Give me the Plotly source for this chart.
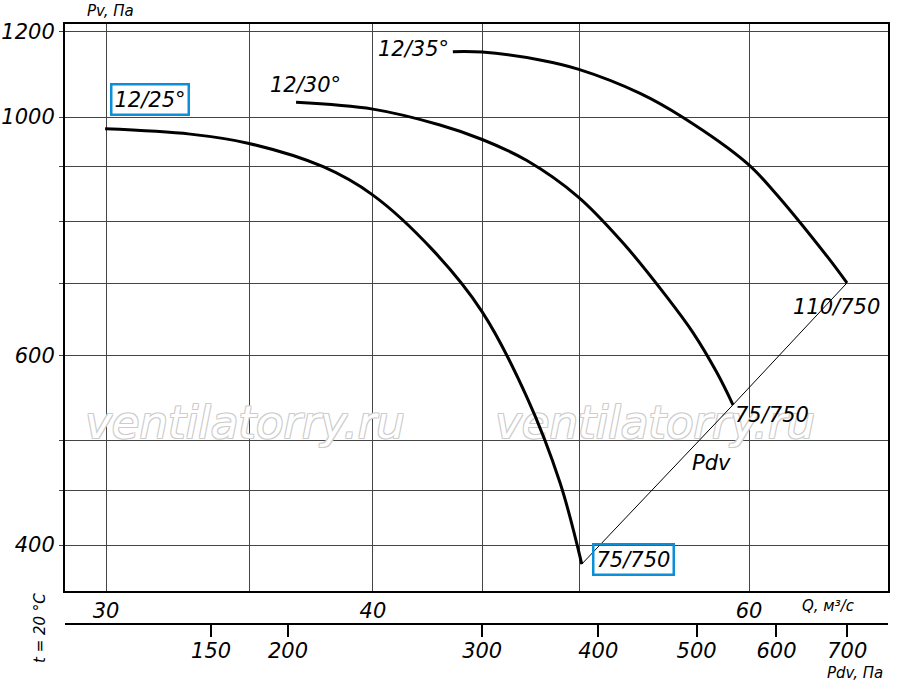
import math
import plotly.graph_objects as go

# fan curves: Q (m3/s) and Pv (Pa)
q_25 = [29.97, 32.85, 35.0, 37.91, 40.0, 42.67, 45.0, 47.22, 48.94, 50.1]
pv_25 = [975, 964, 945, 899, 846, 752, 659, 549, 457, 384]

q_30 = [36.82, 40.0, 43.0, 45.0, 47.22, 49.9, 52.37, 54.92, 56.49, 57.97, 58.97]
pv_30 = [1032, 1017, 983, 953, 911, 843, 764, 680, 630, 578, 540]

q_35 = [43.6, 45.0, 47.89, 49.9, 53.35, 55.88, 59.86, 61.56, 65.27, 66.68]
pv_35 = [1150, 1149, 1130, 1108, 1052, 999, 906, 855, 742, 701]

# axis ticks
q_grid = [30, 35, 40, 45, 50, 60]
q_text = ["30", "", "40", "", "", "60"]
pv_grid = [400, 450, 500, 600, 700, 800, 900, 1000, 1200]
pv_text = ["400", "", "", "600", "", "", "", "1000", "1200"]
pdv_labels = ["150", "200", "300", "400", "500", "600", "700"]
pdv_at_q = [33.6, 36.5, 45.0, 51.0, 56.7, 61.8, 66.7]

# watermark spots
wm_q = [34.85, 54.22]
wm_pv = [515, 515]

FONT = "DejaVu Sans"
BLUE = "#0a8fd8"

fig = go.Figure()

# watermark first so curves and labels sit on top of it
fig.add_trace(go.Scatter(
    x=wm_q, y=wm_pv, mode="text", text=["ventilatorry.ru"] * 2, showlegend=False, hoverinfo="skip",
    textfont=dict(family=FONT, size=45, color="white", style="italic",
                  shadow="1px 1px 0 #cccccc, -1px -1px 0 #cccccc, 1px -1px 0 #cccccc, -1px 1px 0 #cccccc")))

curve = dict(color="black", width=3, shape="spline", smoothing=1.0)
fig.add_trace(go.Scatter(x=q_25, y=pv_25, mode="lines", line=curve, showlegend=False))
fig.add_trace(go.Scatter(x=q_30, y=pv_30, mode="lines", line=curve, showlegend=False))
fig.add_trace(go.Scatter(x=q_35, y=pv_35, mode="lines", line=curve, showlegend=False))

# Pdv line through the curve ends
fig.add_trace(go.Scatter(x=[q_25[-1], q_30[-1], q_35[-1]], y=[pv_25[-1], pv_30[-1], pv_35[-1]],
                         mode="lines", line=dict(color="black", width=1), showlegend=False))
# dummy trace so the Pdv axis is drawn
fig.add_trace(go.Scatter(x=[q_25[0]], y=[pv_25[0]], xaxis="x2", mode="markers",
                         marker=dict(opacity=0), showlegend=False, hoverinfo="skip"))

lab = dict(family=FONT, size=21, color="black", style="italic")
notes = [
    ("12/25°", 31.46, 1038, True),
    ("12/30°", 37.19, 1071, False),
    ("12/35°", 41.81, 1157, False),
    ("110/750", 65.96, 666, False),
    ("75/750", 61.5, 528, False),
    ("Pdv", 57.65, 477, False),
    ("75/750", 52.95, 388, True),
]
for txt, qx, py, boxed in notes:
    # log axes take annotation positions in log10 units
    fig.add_annotation(x=math.log10(qx), y=math.log10(py), xref="x", yref="y", text=txt,
                       showarrow=False, font=lab, xanchor="center", yanchor="middle",
                       bordercolor=BLUE if boxed else "rgba(0,0,0,0)",
                       borderwidth=2.5 if boxed else 0, borderpad=2)

small = dict(family=FONT, size=15, color="black", style="italic")
fig.add_annotation(x=20 / 823, y=1, xref="paper", yref="paper", text="Pv, Па", showarrow=False,
                   font=small, xanchor="left", yanchor="bottom", yshift=2)
fig.add_annotation(x=(828 - 65) / 823, y=(624 - 606) / 600, xref="paper", yref="paper",
                   text="Q, м³/с", showarrow=False, font=small, xanchor="center", yanchor="middle")
fig.add_annotation(x=(855 - 65) / 823, y=(624 - 673) / 600, xref="paper", yref="paper",
                   text="Pdv, Па", showarrow=False, font=small, xanchor="center", yanchor="middle")
fig.add_annotation(x=(40 - 65) / 823, y=(624 - 628) / 600, xref="paper", yref="paper",
                   text="t = 20 °C", showarrow=False, font=small, textangle=-90,
                   xanchor="center", yanchor="middle")

tf = dict(family=FONT, size=21, color="black", style="italic")
fig.update_layout(
    width=900, height=693,
    margin=dict(l=65, r=12, t=24, b=69),
    paper_bgcolor="white", plot_bgcolor="white",
    xaxis=dict(type="log", range=[1.45791, 1.84320], tickvals=q_grid, ticktext=q_text,
               showgrid=True, gridcolor="#444", gridwidth=1, zeroline=False,
               showline=True, linecolor="black", linewidth=2, mirror=True,
               ticks="", tickfont=tf, anchor="y", automargin=False),
    xaxis2=dict(type="log", range=[1.45791, 1.84320], overlaying="x", anchor="free", position=0,
                side="bottom", tickvals=pdv_at_q, ticktext=pdv_labels, showgrid=False,
                showline=True, linecolor="black", linewidth=2, ticks="outside", ticklen=12,
                tickwidth=1.5, tickcolor="black", tickfont=tf, automargin=False,
                ticklabelstandoff=-4),
    yaxis=dict(type="log", range=[2.55932, 3.08646], domain=[33 / 600, 1], tickvals=pv_grid,
               ticktext=pv_text, showgrid=True, gridcolor="#444", gridwidth=1, zeroline=False,
               showline=True, linecolor="black", linewidth=2, mirror=True,
               ticks="outside", ticklen=4, tickcolor="#444", tickfont=tf, automargin=False),
)

fig.write_html("out.html", config={"displayModeBar": False},
               post_script="document.body.style.margin='0';")
